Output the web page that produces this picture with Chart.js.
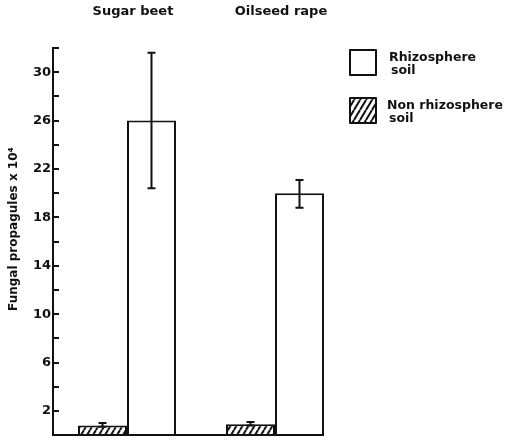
<!DOCTYPE html>
<html>
<head>
<meta charset="utf-8">
<script src="https://cdn.jsdelivr.net/npm/chart.js@4.4.1/dist/chart.umd.min.js"></script>
<style>
  html, body { margin: 0; padding: 0; background: #fff; }
</style>
</head>
<body>
<canvas id="chart" width="508" height="445"></canvas>
<script>
// Crop groups and fungal counts (x 10^4)
const categories = ["Sugar beet", "Oilseed rape"];
const rhizosphere = [26, 20];
const rhizosphereLow = [20.4, 18.8];
const rhizosphereHigh = [31.6, 21.1];
const nonRhizosphere = [0.8, 0.9];
const nonRhizosphereLow = [0.7, 0.8];
const nonRhizosphereHigh = [1.0, 1.1];

// Only every other tick carries a number
const yLabelled = [2, 6, 10, 14, 18, 22, 26, 30];

const ink = "#111";
const font = '"DejaVu Sans", sans-serif';

Chart.defaults.font.family = font;
Chart.defaults.color = ink;

// Steep diagonal hatch for the non rhizosphere bars
function makeHatch() {
  const w = 6, h = 10;
  const c = document.createElement("canvas");
  c.width = w;
  c.height = h;
  const g = c.getContext("2d");
  g.fillStyle = "#fff";
  g.fillRect(0, 0, w, h);
  g.strokeStyle = ink;
  g.lineWidth = 2;
  g.beginPath();
  g.moveTo(0, h); g.lineTo(w, 0);
  g.moveTo(-w, h); g.lineTo(0, 0);
  g.moveTo(w, h); g.lineTo(2 * w, 0);
  g.stroke();
  return g.createPattern(c, "repeat");
}
const hatch = makeHatch();

// Vertical error bars with short caps
const errorBars = {
  id: "errorBars",
  afterDatasetsDraw(chart) {
    const { ctx } = chart;
    const y = chart.scales.y;
    ctx.save();
    ctx.strokeStyle = ink;
    ctx.lineWidth = 2;
    chart.data.datasets.forEach((ds, i) => {
      if (!ds.errLow) return;
      chart.getDatasetMeta(i).data.forEach((bar, j) => {
        const top = y.getPixelForValue(ds.errHigh[j]);
        const bottom = y.getPixelForValue(ds.errLow[j]);
        ctx.beginPath();
        ctx.moveTo(bar.x, top); ctx.lineTo(bar.x, bottom);
        ctx.moveTo(bar.x - 4, top); ctx.lineTo(bar.x + 4, top);
        ctx.moveTo(bar.x - 4, bottom); ctx.lineTo(bar.x + 4, bottom);
        ctx.stroke();
      });
    });
    ctx.restore();
  }
};

// Inward tick marks on the y axis and the ground line under the bars
const axisMarks = {
  id: "axisMarks",
  afterDraw(chart) {
    const { ctx, chartArea } = chart;
    const y = chart.scales.y;
    ctx.save();
    ctx.strokeStyle = ink;
    ctx.lineWidth = 2;
    ctx.beginPath();
    y.ticks.forEach(t => {
      if (t.value <= 0) return;
      const py = Math.round(y.getPixelForValue(t.value));
      ctx.moveTo(chartArea.left, py);
      ctx.lineTo(chartArea.left + 6, py);
    });
    let right = chartArea.left;
    chart.data.datasets.forEach((ds, i) => {
      chart.getDatasetMeta(i).data.forEach(bar => {
        right = Math.max(right, bar.x + bar.width / 2);
      });
    });
    const y0 = Math.round(y.getPixelForValue(0));
    ctx.moveTo(chartArea.left - 1, y0);
    ctx.lineTo(right, y0);
    ctx.stroke();
    ctx.restore();
  }
};

// Boxed legend with two-line labels, right of the plot
const sideLegend = {
  id: "sideLegend",
  afterDraw(chart) {
    const { ctx } = chart;
    const rows = [
      { ds: chart.data.datasets[1], box: [350, 50], text: [389, 51] },
      { ds: chart.data.datasets[0], box: [350, 98], text: [387, 99] }
    ];
    ctx.save();
    ctx.lineWidth = 2;
    ctx.lineJoin = "round";
    ctx.font = "bold 12.5px " + font;
    ctx.textBaseline = "top";
    rows.forEach(r => {
      const [bx, by] = r.box;
      ctx.fillStyle = r.ds.backgroundColor;
      ctx.fillRect(bx, by, 26, 25);
      ctx.strokeStyle = ink;
      ctx.strokeRect(bx, by, 26, 25);
      ctx.fillStyle = ink;
      r.ds.label.forEach((line, k) => {
        ctx.fillText(line, r.text[0] + (k ? 2 : 0), r.text[1] + k * 13);
      });
    });
    ctx.restore();
  }
};

new Chart(document.getElementById("chart"), {
  type: "bar",
  data: {
    labels: categories,
    datasets: [
      {
        label: ["Non rhizosphere", "soil"],
        data: nonRhizosphere,
        errLow: nonRhizosphereLow,
        errHigh: nonRhizosphereHigh,
        backgroundColor: hatch,
        borderColor: ink,
        borderWidth: 2
      },
      {
        label: ["Rhizosphere", "soil"],
        data: rhizosphere,
        errLow: rhizosphereLow,
        errHigh: rhizosphereHigh,
        backgroundColor: "#fff",
        borderColor: ink,
        borderWidth: 2
      }
    ]
  },
  options: {
    responsive: false,
    animation: false,
    layout: { padding: { top: 0, right: 159, bottom: 8, left: 0 } },
    datasets: { bar: { categoryPercentage: 0.662, barPercentage: 1 } },
    plugins: {
      legend: { display: false },
      tooltip: { enabled: false }
    },
    scales: {
      x: {
        position: "top",
        grid: { display: false, drawTicks: false },
        border: { display: false },
        ticks: {
          font: { size: 13, weight: "bold" },
          padding: 29,
          labelOffset: 6,
          maxRotation: 0
        },
        afterFit(scale) { scale.height = 48; }
      },
      y: {
        min: 0,
        max: 32,
        grid: { display: false, drawTicks: false },
        border: { display: true, color: ink, width: 2 },
        ticks: {
          stepSize: 2,
          autoSkip: false,
          padding: 2,
          font: { size: 13, weight: "bold" },
          callback: v => (yLabelled.includes(v) ? v : "")
        },
        title: {
          display: true,
          // leading spaces lift the rotated title a little above centre
          text: "      Fungal propagules x 10⁴",
          font: { size: 12, weight: "bold" },
          padding: { top: 7, bottom: 0 }
        },
        afterFit(scale) { scale.width = 53; }
      }
    }
  },
  plugins: [errorBars, axisMarks, sideLegend]
});
</script>
</body>
</html>
